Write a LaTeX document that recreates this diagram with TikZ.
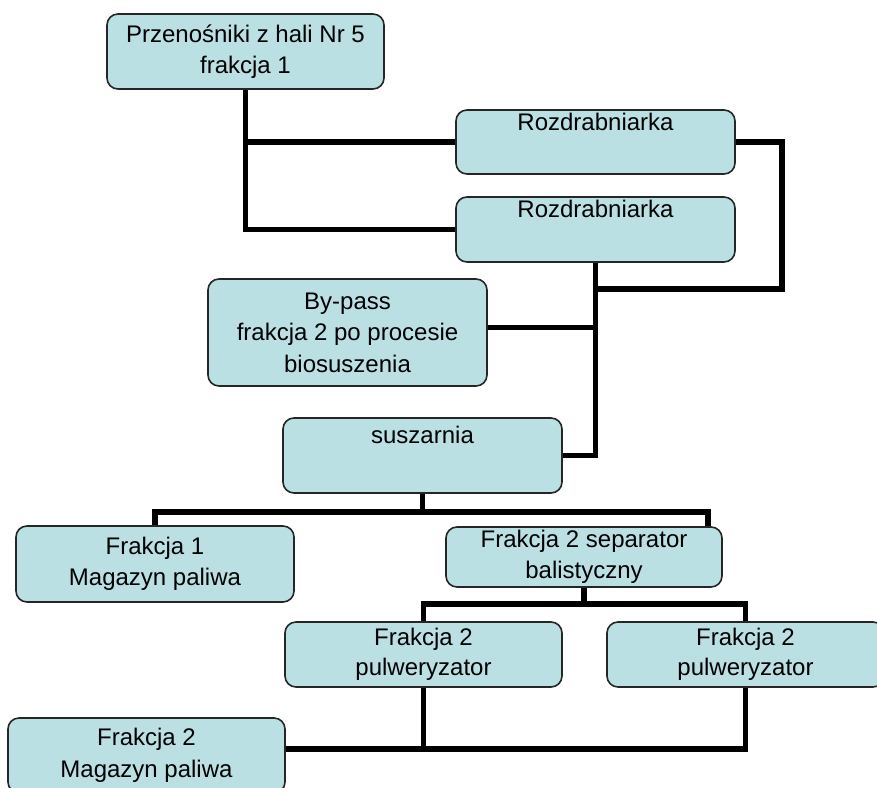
\documentclass[tikz,border=0pt]{standalone}
\usepackage{fontspec}
\setmainfont{Liberation Sans}
\definecolor{boxfill}{RGB}{187,224,227}
\begin{document}
\begin{tikzpicture}[x=1pt,y=1pt,
  box/.style={draw=black!85,line width=1.6pt,fill=boxfill,rounded corners=11pt,
    align=center,inner sep=0pt,font=\fontsize{24}{31.5}\selectfont},
  link/.style={draw=black,line width=5.4pt}]
\useasboundingbox (0,0) rectangle (877,-787);
\clip (0,0) rectangle (877,-787);
\coordinate (jr) at (782,-289);
\coordinate (b1) at (422.5,-512);
\coordinate (b2) at (584,-604);
\coordinate (b3) at (423.5,-749);
% boxes
\node[box,minimum width=277pt,minimum height=75pt] (p1) at (245.5,-51.5) {Przenośniki z hali Nr 5\\frakcja 1};
\node[box,minimum width=279pt,minimum height=64pt] (r1) at (595.5,-142) {Rozdrabniarka\\\strut};
\node[box,minimum width=279pt,minimum height=65pt] (r2) at (595.5,-229.5) {Rozdrabniarka\\\strut};
\node[box,minimum width=279pt,minimum height=107pt] (bp) at (347.5,-332.5) {By-pass\\frakcja 2 po procesie\\biosuszenia};
\node[box,minimum width=279pt,minimum height=75pt] (su) at (422.5,-455.5) {suszarnia\\\strut};
\node[box,minimum width=278pt,minimum height=76pt] (f1) at (155,-564) {Frakcja 1\\Magazyn paliwa};
\node[box,minimum width=276pt,minimum height=60pt] (sep) at (584,-557) {Frakcja 2 separator\\balistyczny};
\node[box,minimum width=277pt,minimum height=65pt] (pw1) at (423.5,-654.5) {\raisebox{-5pt}{\shortstack{Frakcja 2\\[5pt]pulweryzator}}};
\node[box,minimum width=277pt,minimum height=65pt] (pw2) at (745.5,-654.5) {\raisebox{-5pt}{\shortstack{Frakcja 2\\[5pt]pulweryzator}}};
\node[box,minimum width=277pt,minimum height=75pt] (mag2) at (146.5,-755.5) {Frakcja 2\\Magazyn paliwa};
\coordinate (bpe) at ([yshift=5pt]bp.east);
\coordinate (sepin) at ([xshift=124pt]sep.north);
% connectors
\draw[link] (p1.south) |- (r2.west);
\draw[link] (p1.south |- r1.west) -- (r1.west);
\draw[link] (r1.east) -| (jr) -- (r2.south |- jr);
\draw[link] (r2.south) |- (su.east);
\draw[link] (bpe) -- (r2.south |- bpe);
\draw[link] (su.south) -- (b1);
\draw[link] (f1.north) |- (b1) -| (sepin);
\draw[link] (sep.south) -- (b2);
\draw[link] (pw1.north) |- (b2) -| (pw2.north);
\draw[link] (pw1.south) -- (b3);
\draw[link] (pw2.south) |- (mag2.east |- b3);
\end{tikzpicture}
\end{document}
